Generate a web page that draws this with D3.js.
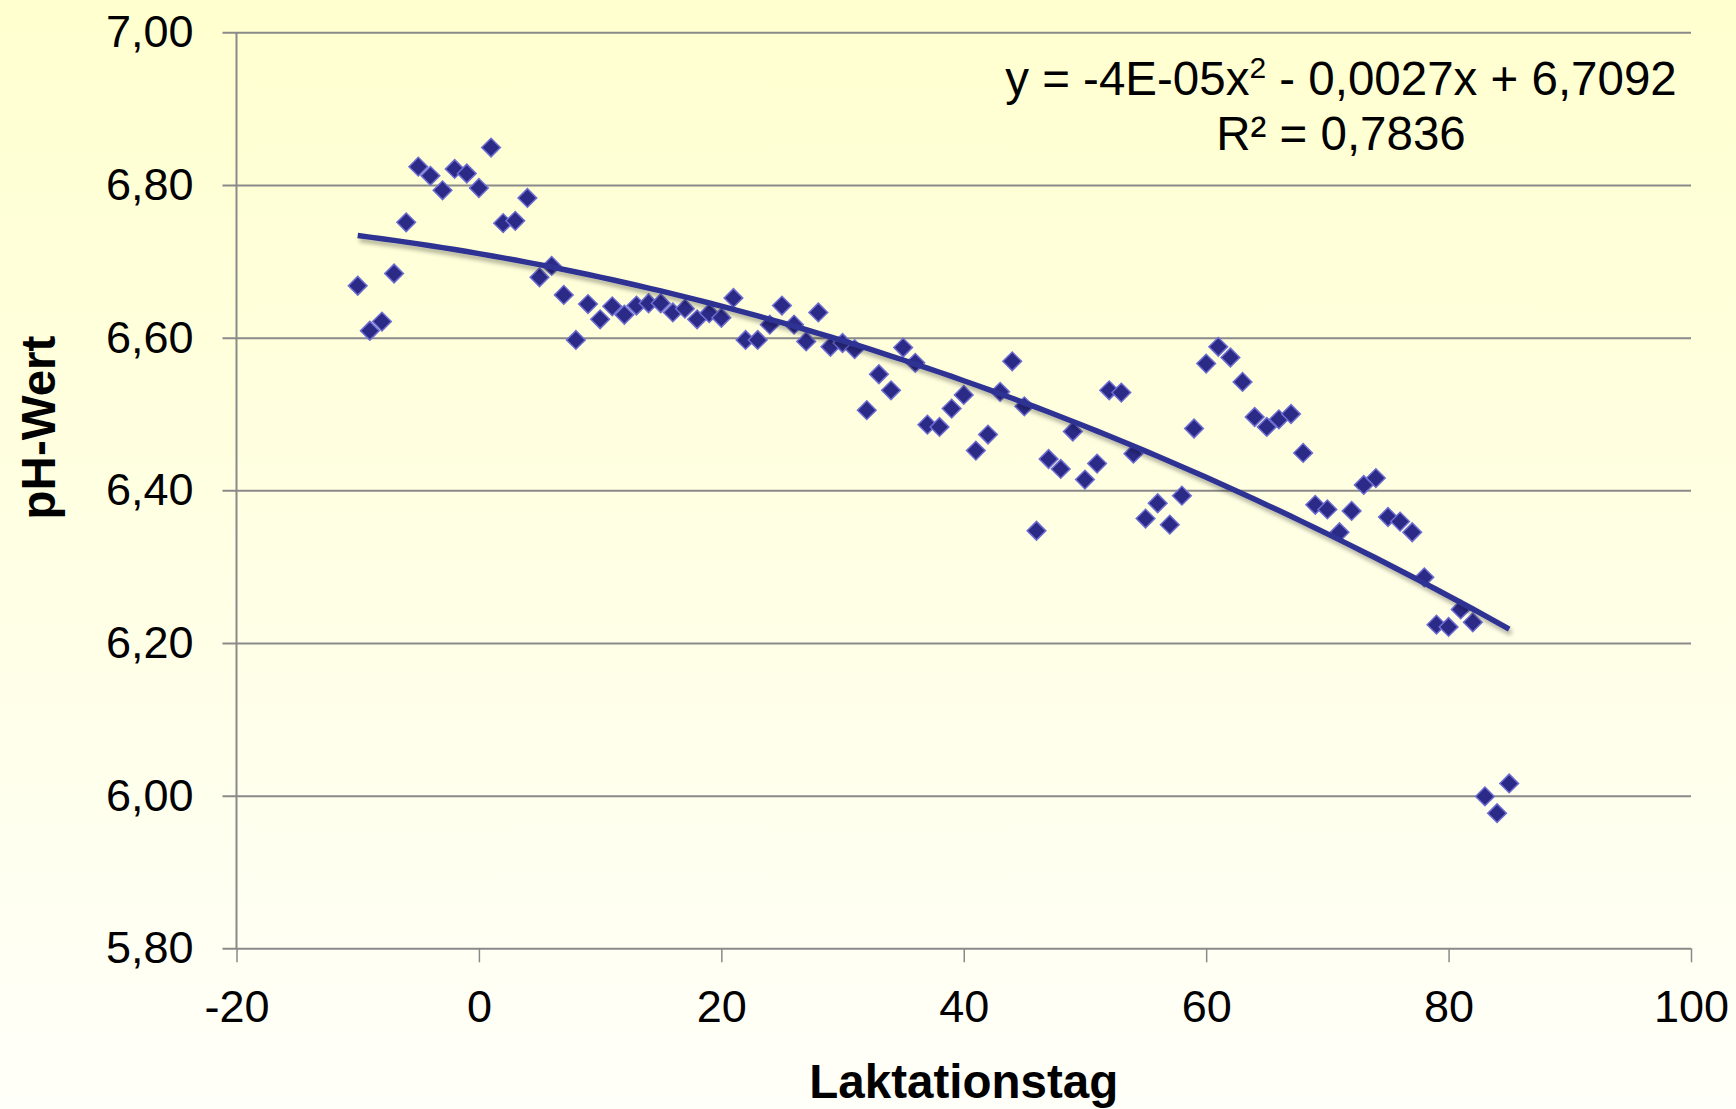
<!DOCTYPE html>
<html>
<head>
<meta charset="utf-8">
<script src="https://cdn.jsdelivr.net/npm/d3@7"></script>
<style>
    body { margin: 0; padding: 0; overflow: hidden; }
    text { font-family: Arial, "Liberation Sans", sans-serif; fill: #000; }
</style>
</head>
<body>
<div class="svg-container"></div>
<script>
// Laktationstag (x) and pH-Wert (y), one reading per day
let days = [-10, -9, -8, -7, -6, -5, -4, -3, -2, -1,
    0, 1, 2, 3, 4, 5, 6, 7, 8, 9,
    10, 11, 12, 13, 14, 15, 16, 17, 18, 19,
    20, 21, 22, 23, 24, 25, 26, 27, 28, 29,
    30, 31, 32, 33, 34, 35, 36, 37, 38, 39,
    40, 41, 42, 43, 44, 45, 46, 47, 48, 49,
    50, 51, 52, 53, 54, 55, 56, 57, 58, 59,
    60, 61, 62, 63, 64, 65, 66, 67, 68, 69,
    70, 71, 72, 73, 74, 75, 76, 77, 78, 79,
    80, 81, 82, 83, 84, 85];

let phValues = [6.668, 6.609, 6.621, 6.684, 6.751, 6.824, 6.812, 6.793, 6.821, 6.815,
    6.796, 6.849, 6.750, 6.753, 6.783, 6.679, 6.694, 6.656, 6.597, 6.644,
    6.624, 6.641, 6.630, 6.642, 6.645, 6.645, 6.633, 6.638, 6.624, 6.632,
    6.626, 6.652, 6.597, 6.597, 6.617, 6.642, 6.617, 6.595, 6.633, 6.588,
    6.593, 6.585, 6.505, 6.552, 6.531, 6.587, 6.567, 6.486, 6.483, 6.507,
    6.525, 6.452, 6.473, 6.529, 6.569, 6.510, 6.347, 6.441, 6.428, 6.477,
    6.414, 6.435, 6.531, 6.528, 6.448, 6.363, 6.383, 6.355, 6.393, 6.481,
    6.566, 6.588, 6.574, 6.542, 6.496, 6.483, 6.493, 6.500, 6.449, 6.381,
    6.375, 6.345, 6.373, 6.407, 6.416, 6.365, 6.359, 6.345, 6.286, 6.224,
    6.221, 6.244, 6.227, 5.999, 5.977, 6.016];

let xTicks = [-20, 0, 20, 40, 60, 80, 100];
let yTicks = [5.8, 6.0, 6.2, 6.4, 6.6, 6.8, 7.0];

let equationLine1 = ["y = -4E-05x", "2", " - 0,0027x + 6,7092"];
let equationLine2 = "R² = 0,7836";

let xTitle = "Laktationstag";
let yTitle = "pH-Wert";

let width = 1736;
let height = 1109;

let plot = { left: 236.5, right: 1691, top: 32.3, bottom: 948.3 };

// german number format (comma as decimal sign, plain hyphen as minus)
let locale = d3.formatLocale({ decimal: ",", thousands: ".", grouping: [3], currency: ["", " €"], minus: "-" });

/*****************************
 * least squares, 2nd degree *
 *****************************/

function quadraticFit(xs, ys)
{
    let s = [0, 0, 0, 0, 0];
    let t = [0, 0, 0];
    for(let i = 0; i < xs.length; i++)
    {
        for(let k = 0; k < 5; k++) s[k] += xs[i] ** k;
        for(let k = 0; k < 3; k++) t[k] += ys[i] * xs[i] ** k;
    }
    let m = [
        [s[0], s[1], s[2], t[0]],
        [s[1], s[2], s[3], t[1]],
        [s[2], s[3], s[4], t[2]]
    ];
    // gauss elimination
    for(let c = 0; c < 3; c++)
    {
        for(let r = c + 1; r < 3; r++)
        {
            let f = m[r][c] / m[c][c];
            for(let k = c; k < 4; k++) m[r][k] -= f * m[c][k];
        }
    }
    let coef = [0, 0, 0];
    for(let r = 2; r >= 0; r--)
    {
        let v = m[r][3];
        for(let k = r + 1; k < 3; k++) v -= m[r][k] * coef[k];
        coef[r] = v / m[r][r];
    }
    return coef;
}

/********
 * MAIN *
 ********/

let svg = d3.select(".svg-container")
    .append("svg")
    .attr("width", width)
    .attr("height", height);

let defs = svg.append("defs");

let grad = defs.append("linearGradient")
    .attr("id", "bg")
    .attr("x1", 0).attr("y1", 0)
    .attr("x2", 0).attr("y2", 1);
grad.append("stop").attr("offset", "0%").attr("stop-color", "#ffffcf");
grad.append("stop").attr("offset", "100%").attr("stop-color", "#fffff9");

let shadow = defs.append("filter")
    .attr("id", "shadow")
    .attr("x", "-5%").attr("y", "-20%")
    .attr("width", "110%").attr("height", "140%");
shadow.append("feDropShadow")
    .attr("dx", 2).attr("dy", 4)
    .attr("stdDeviation", 2)
    .attr("flood-color", "#000")
    .attr("flood-opacity", 0.3);

svg.append("rect")
    .attr("width", width)
    .attr("height", height)
    .attr("fill", "url(#bg)");

let x = d3.scaleLinear().domain([-20, 100]).range([plot.left, plot.right]);
let y = d3.scaleLinear().domain([5.8, 7.0]).range([plot.bottom, plot.top]);

// horizontal gridlines + y labels
let yAxis = svg.append("g")
    .attr("transform", "translate(" + plot.right + ",0)")
    .call(d3.axisLeft(y)
        .tickValues(yTicks)
        .tickFormat(locale.format(".2f"))
        .tickSize(plot.right - plot.left + 14)
        .tickPadding(29));
yAxis.select(".domain").remove();
yAxis.selectAll("line").attr("stroke", "#8a8a8a").attr("stroke-width", 2);
yAxis.selectAll("text").style("font-size", "45px").attr("fill", "#000");

// x ticks + labels
let xAxis = svg.append("g")
    .attr("transform", "translate(0," + plot.bottom + ")")
    .call(d3.axisBottom(x)
        .tickValues(xTicks)
        .tickFormat(locale.format("d"))
        .tickSize(14)
        .tickPadding(28));
xAxis.select(".domain").remove();
xAxis.selectAll("line").attr("stroke", "#8a8a8a").attr("stroke-width", 1.5);
xAxis.selectAll("text").style("font-size", "45px").attr("fill", "#000");

// vertical axis line
svg.append("line")
    .attr("x1", x(-20)).attr("x2", x(-20))
    .attr("y1", y(7.0)).attr("y2", y(5.8))
    .attr("stroke", "#8a8a8a")
    .attr("stroke-width", 2);

// points
let points = days.map((d, i) => ({ day: d, ph: phValues[i] }));

svg.append("g")
    .selectAll("path")
    .data(points)
    .enter()
    .append("path")
    .attr("d", d3.symbol().type(d3.symbolSquare).size(175))
    .attr("transform", d => "translate(" + x(d.day) + "," + y(d.ph) + ") rotate(45)")
    .attr("fill", "#2b2a87")
    .attr("stroke", "#6e6ed2")
    .attr("stroke-width", 1.5);

// polynomial trendline, fitted from the points
let coef = quadraticFit(days, phValues);
let trend = days.map(d => ({ day: d, ph: coef[0] + coef[1] * d + coef[2] * d * d }));

svg.append("path")
    .datum(trend)
    .attr("d", d3.line().x(d => x(d.day)).y(d => y(d.ph)))
    .attr("fill", "none")
    .attr("stroke", "#2e3192")
    .attr("stroke-width", 5.5)
    .attr("filter", "url(#shadow)");

// trendline label
let eq = svg.append("text")
    .attr("x", 1341)
    .attr("y", 95)
    .attr("text-anchor", "middle")
    .style("font-size", "47.5px");
eq.append("tspan").text(equationLine1[0]);
eq.append("tspan").attr("dy", -17).style("font-size", "30px").text(equationLine1[1]);
eq.append("tspan").attr("dy", 17).text(equationLine1[2]);

svg.append("text")
    .attr("x", 1341)
    .attr("y", 150)
    .attr("text-anchor", "middle")
    .style("font-size", "47.5px")
    .text(equationLine2);

// axis titles
svg.append("text")
    .attr("x", (plot.left + plot.right) / 2)
    .attr("y", 1098)
    .attr("text-anchor", "middle")
    .style("font-size", "47.5px")
    .style("font-weight", "bold")
    .text(xTitle);

svg.append("text")
    .attr("transform", "translate(55,427.5) rotate(-90)")
    .attr("text-anchor", "middle")
    .style("font-size", "47.5px")
    .style("font-weight", "bold")
    .text(yTitle);
</script>
</body>
</html>
